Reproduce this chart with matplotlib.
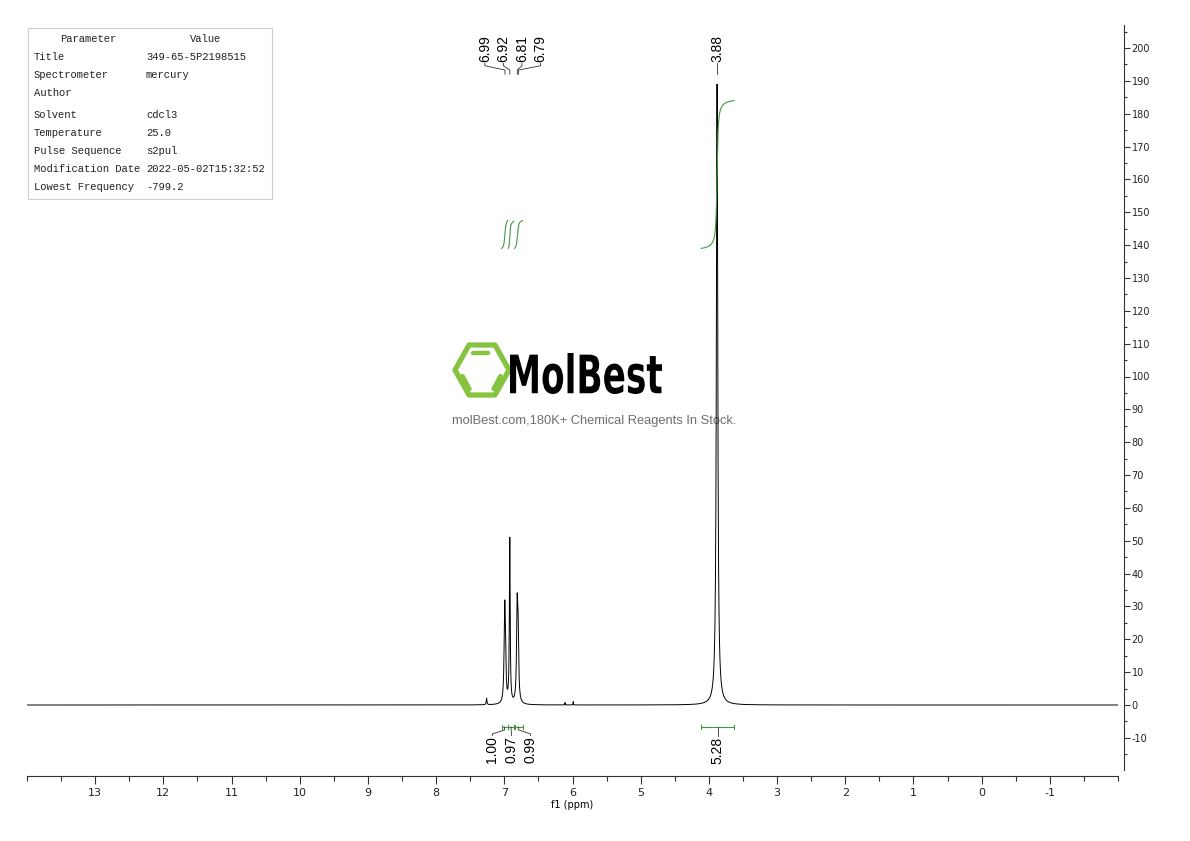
import numpy as np
import matplotlib.pyplot as plt
from matplotlib.patches import Polygon, Rectangle, PathPatch
from matplotlib.textpath import TextPath
from matplotlib.font_manager import FontProperties
from matplotlib.transforms import Affine2D
from matplotlib.ticker import MultipleLocator

plt.rcParams["axes.unicode_minus"] = False

W, H = 1190, 841

# ---- spectrum lines (ppm, height, half width) ----
line_ppm = [7.26, 6.995, 6.985, 6.920, 6.812, 6.798, 6.11, 5.99, 3.880]
line_height = [2.0, 25, 12, 50, 27, 19, 0.7, 1.0, 189]
line_hwhm = [0.006, 0.010, 0.010, 0.007, 0.010, 0.010, 0.003, 0.003, 0.012]

# ---- peak picking labels ----
pick_groups = [[6.99, 6.92, 6.81, 6.79], [3.88]]

# ---- integrals ----
int_ranges = [(7.04, 6.95), (6.94, 6.86), (6.85, 6.73), (4.11, 3.63)]
int_values = [1.00, 0.97, 0.99, 5.28]
int_label_groups = [[0, 1, 2], [3]]
INT_BASE = 139.0
INT_SCALE = 8.52          # curve rise per unit of integral

# ---- parameter table ----
param_names = ["Title", "Spectrometer", "Author", "Solvent", "Temperature",
               "Pulse Sequence", "Modification Date", "Lowest Frequency"]
param_values = ["349-65-5P2198515", "mercury", "", "cdcl3", "25.0",
                "s2pul", "2022-05-02T15:32:52", "-799.2"]
param_rows_y = [57, 75, 93, 115, 133, 151, 169, 187]

GREEN = "#3f9a3f"
LOGO_GREEN = "#86c440"
tick_font = ["Liberation Sans Narrow", "DejaVu Sans"]

# ---------------------------------------------------------------------------

ppm = np.arange(14.0, -2.0, -0.0005)
spec = np.zeros_like(ppm)
for p0, h, w in zip(line_ppm, line_height, line_hwhm):
    spec += h * w**2 / (w**2 + (ppm - p0)**2)

fig = plt.figure(figsize=(W / 100, H / 100), dpi=100)

# overlay in pixel coordinates for table and watermark
ov = fig.add_axes([0, 0, 1, 1], zorder=0)
ov.set_xlim(0, W); ov.set_ylim(H, 0); ov.axis("off")

ax = fig.add_axes([27 / W, (H - 770) / H, (1118 - 27) / W, (770 - 25) / H], zorder=1)
ax.set_facecolor("none")
ax.plot(ppm, spec, color="black", lw=0.7)
ax.set_xlim(14, -2)
ax.set_ylim(-(770 - 705) / 3.285, (705 - 25) / 3.285)

for s in ("top", "left"):
    ax.spines[s].set_visible(False)
for s in ("right", "bottom"):
    ax.spines[s].set_position(("outward", 4.3))
    ax.spines[s].set_linewidth(0.8)
    ax.spines[s].set_color("#333333")
ax.yaxis.tick_right()
ax.xaxis.set_minor_locator(MultipleLocator(0.5))
ax.set_xticks(np.arange(-1, 14, 1))
ax.yaxis.set_minor_locator(MultipleLocator(5))
ax.set_yticks(np.arange(-10, 201, 10))
ax.tick_params(axis="x", which="major", length=6, width=0.8, color="#333333",
               labelsize=8, pad=3)
ax.tick_params(axis="x", which="minor", length=3.5, width=0.8, color="#333333")
ax.tick_params(axis="y", which="major", length=4.5, width=0.8, color="#333333",
               labelsize=7, pad=1)
ax.tick_params(axis="y", which="minor", length=2.5, width=0.8, color="#333333")
for lab in ax.get_xticklabels() + ax.get_yticklabels():
    lab.set_family(tick_font)
    lab.set_color("#222222")
ax.set_xlabel("f1 (ppm)", fontsize=7, family=tick_font, labelpad=1)

# integral curves, brackets and labels
for (hi, lo), val in zip(int_ranges, int_values):
    m = (ppm <= hi) & (ppm >= lo)
    cum = np.cumsum(spec[m])
    ax.plot(ppm[m], INT_BASE + cum / cum[-1] * val * INT_SCALE, color=GREEN, lw=0.8)
    ax.plot([hi, lo], [-6.7, -6.7], color=GREEN, lw=0.8)
    for e in (hi, lo):
        ax.plot([e, e], [-7.4, -6.0], color=GREEN, lw=0.8)

for group in int_label_groups:
    centers = [(int_ranges[i][0] + int_ranges[i][1]) / 2 for i in group]
    mid = np.mean(centers)
    n = len(group)
    for k, i in enumerate(group):
        xl = mid + (k - (n - 1) / 2) * -0.28
        xc = centers[k]
        if n > 1:
            ax.plot([xc, xc, xl, xl], [-6.7, -7.6, -8.8, -9.3], color="#333333", lw=0.6)
        else:
            ax.plot([xc, xc], [-6.7, -9.3], color="#333333", lw=0.6)
        ax.text(xl, -9.6, f"{int_values[i]:.2f}", rotation=90, ha="center", va="top",
                fontsize=10, family=["Liberation Sans", "DejaVu Sans"])

# peak labels
for group in pick_groups:
    mid = np.mean(group)
    n = len(group)
    for k, p in enumerate(group):
        xl = mid + (k - (n - 1) / 2) * -0.272
        if n > 1:
            ax.plot([xl, xl, p, p], [195.3, 194.6, 193.3, 192.0], color="#333333", lw=0.6)
        else:
            ax.plot([p, p], [195.3, 192.0], color="#333333", lw=0.6)
        ax.text(xl, 195.7, f"{p:.2f}", rotation=90, ha="center", va="bottom",
                fontsize=10, family=["Liberation Sans", "DejaVu Sans"])

# parameter table
ov.add_patch(Rectangle((28, 28), 244, 171, fill=False, ec="#cfcfcf", lw=0.8))
mono = ["Liberation Mono", "DejaVu Sans Mono"]
ov.text(88, 39, "Parameter", ha="center", va="center", fontsize=7.6, family=mono, color="#222222")
ov.text(206, 39, "Value", ha="center", va="center", fontsize=7.6, family=mono, color="#222222")
for name, val, y in zip(param_names, param_values, param_rows_y):
    ov.text(34, y, name, ha="left", va="center", fontsize=7.6, family=mono, color="#222222")
    ov.text(146, y, val, ha="left", va="center", fontsize=7.6, family=mono, color="#222222")

# watermark logo
hexv = [(455, 370), (469, 345), (495, 345), (509, 370), (495, 395), (469, 395)]
ov.add_patch(Polygon(hexv, closed=True, fill=False, ec=LOGO_GREEN, lw=3.8, joinstyle="round"))
for (x0, y0), (x1, y1) in [((473, 352.5), (488, 352.5)),
                           ((462.5, 376), (469.5, 389)),
                           ((500.5, 376), (493.5, 389))]:
    ov.plot([x0, x1], [y0, y1], color=LOGO_GREEN, lw=3.2, solid_capstyle="round")

tp = TextPath((0, 0), "MolBest", size=100,
              prop=FontProperties(family="DejaVu Sans", weight="bold"))
bb = tp.get_extents()
tr = Affine2D().translate(-bb.x0, -bb.y0).scale(152 / bb.width, -41 / bb.height).translate(510, 394)
ov.add_patch(PathPatch(tr.transform_path(tp), fc="black", ec="none"))
ov.text(594, 421, "molBest.com,180K+ Chemical Reagents In Stock.", ha="center", va="center",
        fontsize=9.3, color="#6e6e6e", family=["Liberation Sans", "DejaVu Sans"])

fig.savefig("out.png", dpi=100)
